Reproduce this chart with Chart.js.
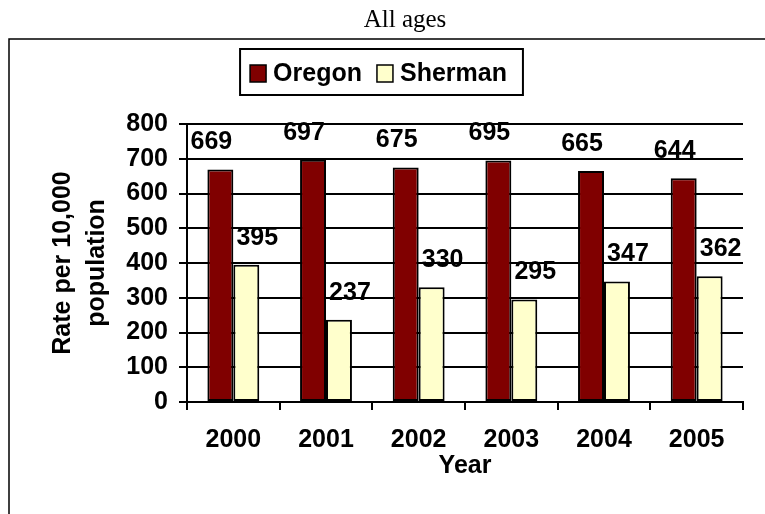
<!DOCTYPE html>
<html>
<head>
<meta charset="utf-8">
<script src="https://cdn.jsdelivr.net/npm/chart.js@4/dist/chart.umd.min.js"></script>
<style>
  html, body { margin: 0; padding: 0; background: #ffffff; }
  #wrap { width: 765px; height: 514px; }
</style>
</head>
<body>
<div id="wrap"><canvas id="c" width="765" height="514"></canvas></div>
<script>
// ---- data ----
const chartTitle = "All ages";
const years = ["2000", "2001", "2002", "2003", "2004", "2005"];
const seriesNames = ["Oregon", "Sherman"];
const oregon = [669, 697, 675, 695, 665, 644];
const sherman = [395, 237, 330, 295, 347, 362];
const yAxisTitle = ["Rate per 10,000", "population"];
const xAxisTitle = "Year";
const yMin = 0, yMax = 800, yStep = 100;

// ---- style ----
const colors = ["#800000", "#FFFFCC"];
const labelShiftX = [-9, 11];
const labelLift = 27;
const FAMILY = "Arial, 'Liberation Sans', sans-serif";
const FSIZE = 25;
const BOLD = "bold " + FSIZE + "px " + FAMILY;

const decor = {
  id: 'decor',
  beforeDraw(chart) {
    const ctx = chart.ctx;
    ctx.save();
    ctx.fillStyle = '#ffffff';
    ctx.fillRect(0, 0, chart.width, chart.height);
    // outer frame (open at right/bottom edges)
    ctx.strokeStyle = '#000';
    ctx.lineWidth = 1.5;
    ctx.beginPath();
    ctx.moveTo(9, chart.height + 5);
    ctx.lineTo(9, 39);
    ctx.lineTo(chart.width + 5, 39);
    ctx.stroke();
    ctx.restore();
  },
  afterDatasetsDraw(chart) {
    const ctx = chart.ctx;
    ctx.save();
    ctx.font = BOLD;
    ctx.fillStyle = '#000';
    ctx.textAlign = 'center';
    ctx.textBaseline = 'middle';
    chart.data.datasets.forEach((ds, di) => {
      const meta = chart.getDatasetMeta(di);
      meta.data.forEach((bar, i) => {
        ctx.fillText(String(ds.data[i]), bar.x + labelShiftX[di], bar.y - labelLift);
      });
    });
    ctx.restore();
  },
  afterDraw(chart) {
    const ctx = chart.ctx;
    ctx.save();
    // title
    ctx.font = "25px 'Liberation Serif', 'Times New Roman', serif";
    ctx.fillStyle = '#000';
    ctx.textAlign = 'center';
    ctx.textBaseline = 'alphabetic';
    ctx.fillText(chartTitle, 405, 27);
    // legend
    ctx.font = "bold 25px " + FAMILY;
    const padL = 10, sw = 16, gap = 7, itemGap = 15, padR = 16;
    const items = chart.data.datasets.map(d => ({ text: d.label, color: d.backgroundColor, w: ctx.measureText(d.label).width }));
    let total = padL + padR;
    items.forEach((it, i) => { total += sw + gap + it.w + (i < items.length - 1 ? itemGap : 0); });
    const cx = 381.5;
    const left = cx - total / 2, top = 49, bottom = 95;
    ctx.fillStyle = '#fff';
    ctx.fillRect(left, top, total, bottom - top);
    ctx.strokeStyle = '#000';
    ctx.lineWidth = 2;
    ctx.strokeRect(left, top, total, bottom - top);
    let x = left + padL;
    const midY = 73.5;
    ctx.textAlign = 'left';
    ctx.textBaseline = 'middle';
    items.forEach((it) => {
      ctx.fillStyle = it.color;
      ctx.fillRect(x, midY - 8.5, sw, 17);
      ctx.lineWidth = 1.5;
      ctx.strokeStyle = '#000';
      ctx.strokeRect(x, midY - 8.5, sw, 17);
      x += sw + gap;
      ctx.fillStyle = '#000';
      ctx.fillText(it.text, x, midY + 1);
      x += it.w + itemGap;
    });
    ctx.restore();
  }
};

new Chart(document.getElementById('c'), {
  type: 'bar',
  data: {
    labels: years,
    datasets: [
      { label: seriesNames[0], data: oregon, backgroundColor: colors[0], borderColor: '#000', borderWidth: 2, borderSkipped: false },
      { label: seriesNames[1], data: sherman, backgroundColor: colors[1], borderColor: '#000', borderWidth: 2, borderSkipped: false }
    ]
  },
  plugins: [decor],
  options: {
    responsive: false,
    devicePixelRatio: 1,
    animation: false,
    events: [],
    layout: { padding: { left: 0, top: 124, right: 22, bottom: 32 } },
    datasets: { bar: { barPercentage: 1.0, categoryPercentage: 0.56 } },
    plugins: {
      legend: { display: false },
      title: { display: false },
      tooltip: { enabled: false }
    },
    scales: {
      x: {
        offset: true,
        grid: { display: true, drawOnChartArea: false, drawTicks: true, tickLength: 8, color: '#000', lineWidth: 2, offset: true },
        border: { display: true, color: '#000', width: 2 },
        ticks: { color: '#000', font: { family: FAMILY, size: FSIZE, weight: 'bold' }, padding: 15, maxRotation: 0 },
        title: { display: true, text: xAxisTitle, color: '#000', font: { family: FAMILY, size: FSIZE, weight: 'bold' }, padding: { top: 0, bottom: 1 } },
        afterFit(scale) { scale.height = 80; }
      },
      y: {
        min: yMin, max: yMax,
        grid: { color: '#000', lineWidth: 2, drawTicks: true, tickLength: 8 },
        border: { display: true, color: '#000', width: 2 },
        ticks: { stepSize: yStep, color: '#000', font: { family: FAMILY, size: FSIZE, weight: 'bold' }, padding: 11 },
        title: { display: true, text: yAxisTitle, color: '#000', font: { family: FAMILY, size: FSIZE, weight: 'bold', lineHeight: '34px' }, padding: { top: 46, bottom: 0 } },
        afterFit(scale) { scale.width = 187; }
      }
    }
  }
});
</script>
</body>
</html>
